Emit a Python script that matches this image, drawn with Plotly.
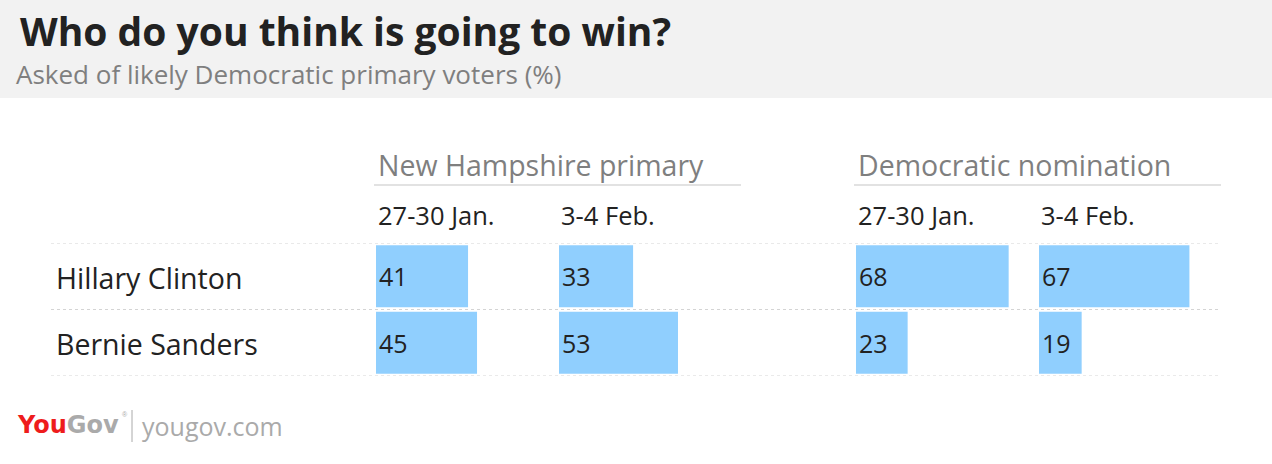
import plotly.graph_objects as go

W, H = 1272, 464

candidates = ["Hillary Clinton", "Bernie Sanders"]
group_labels = ["New Hampshire primary", "Democratic nomination"]
period_labels = ["27-30 Jan.", "3-4 Feb."]
nh_jan = [41, 45]
nh_feb = [33, 53]
nom_jan = [68, 23]
nom_feb = [67, 19]

title = "Who do you think is going to win?"
subtitle = "Asked of likely Democratic primary voters (%)"

FONT = "Open Sans"
BAR = "#90cffe"
DARK = "#222222"
GREY = "#7f7f7f"

px_per_unit = 2.245
col_left = [376, 559, 856, 1039]
col_w = 172
series = [nh_jan, nh_feb, nom_jan, nom_feb]

def px(x):
    return x / W

def py(y):
    return 1 - y / H

fig = go.Figure()
layout_axes = {}
for i, (vals, left) in enumerate(zip(series, col_left)):
    ax = "" if i == 0 else str(i + 1)
    fig.add_trace(go.Bar(
        x=vals, y=candidates, orientation="h",
        xaxis="x" + ax, yaxis="y",
        marker=dict(color=BAR, line=dict(width=0)),
        width=0.93,
        text=[str(v) for v in vals],
        textposition="inside", insidetextanchor="start",
        textfont=dict(family=FONT, size=25, color=DARK),
        hoverinfo="skip", showlegend=False,
    ))
    key = "xaxis" + ax
    layout_axes[key] = dict(
        domain=[px(left), px(left + col_w)],
        range=[0, col_w / px_per_unit],
        visible=False, fixedrange=True,
        anchor="y",
    )

fig.update_layout(**layout_axes)
fig.update_layout(
    width=W, height=H,
    margin=dict(l=0, r=0, t=0, b=0),
    paper_bgcolor="white", plot_bgcolor="rgba(0,0,0,0)",
    yaxis=dict(domain=[py(376), py(243)], range=[1.5, -0.5], visible=False,
               type="category", fixedrange=True),
)

shapes = []
shapes.append(dict(type="rect", xref="paper", yref="paper", x0=0, x1=1,
                   y0=py(98), y1=1, fillcolor="#f2f2f2", line=dict(width=0), layer="below"))
for yv in [-0.5, 0.5, 1.5]:
    shapes.append(dict(type="line", xref="paper", yref="y", x0=px(51), x1=px(1221),
                       y0=yv, y1=yv, line=dict(color="#d4d4d4", width=1, dash="dot")))
for x0, x1 in [(374, 741), (854, 1221)]:
    shapes.append(dict(type="line", xref="paper", yref="paper", x0=px(x0), x1=px(x1),
                       y0=py(185), y1=py(185), line=dict(color="#d9d9d9", width=1.5)))
shapes.append(dict(type="line", xref="paper", yref="paper", x0=px(132), x1=px(132),
                   y0=py(410), y1=py(442), line=dict(color="#aaaaaa", width=1)))

ann = []
def text(x, y, s, size, color, bold=False, family=FONT):
    ann.append(dict(x=px(x), y=py(y), xref="paper", yref="paper", text=("<b>%s</b>" % s) if bold else s,
                    showarrow=False, xanchor="left", yanchor="middle",
                    font=dict(family=family, size=size, color=color)))

text(18, 30, title, 39, DARK, bold=True)
text(14, 74, subtitle, 26, GREY)
text(376, 165, group_labels[0], 28.5, GREY)
text(856, 165, group_labels[1], 28.5, GREY)
for left in (376, 856):
    text(left, 215, period_labels[0], 25.5, DARK)
for left in (559, 1039):
    text(left, 215, period_labels[1], 25.5, DARK)
text(54, 278, candidates[0], 28.5, DARK)
text(54, 344, candidates[1], 28.5, DARK)
ann.append(dict(x=px(15), y=py(425), xref="paper", yref="paper", showarrow=False,
                xanchor="left", yanchor="middle",
                text="<b><span style='color:#ee1c1c'>You</span><span style='color:#aaaaaa'>Gov</span></b>",
                font=dict(family="DejaVu Sans", size=24, color="#aaaaaa")))
text(120, 414, "®", 7, "#aaaaaa", family="Liberation Sans")
text(140, 426, "yougov.com", 25, "#aaaaaa")

fig.update_layout(shapes=shapes, annotations=ann)
fig.write_html("out.html", config={"displayModeBar": False},
               post_script="document.body.style.margin='0';document.body.style.overflow='hidden';")
